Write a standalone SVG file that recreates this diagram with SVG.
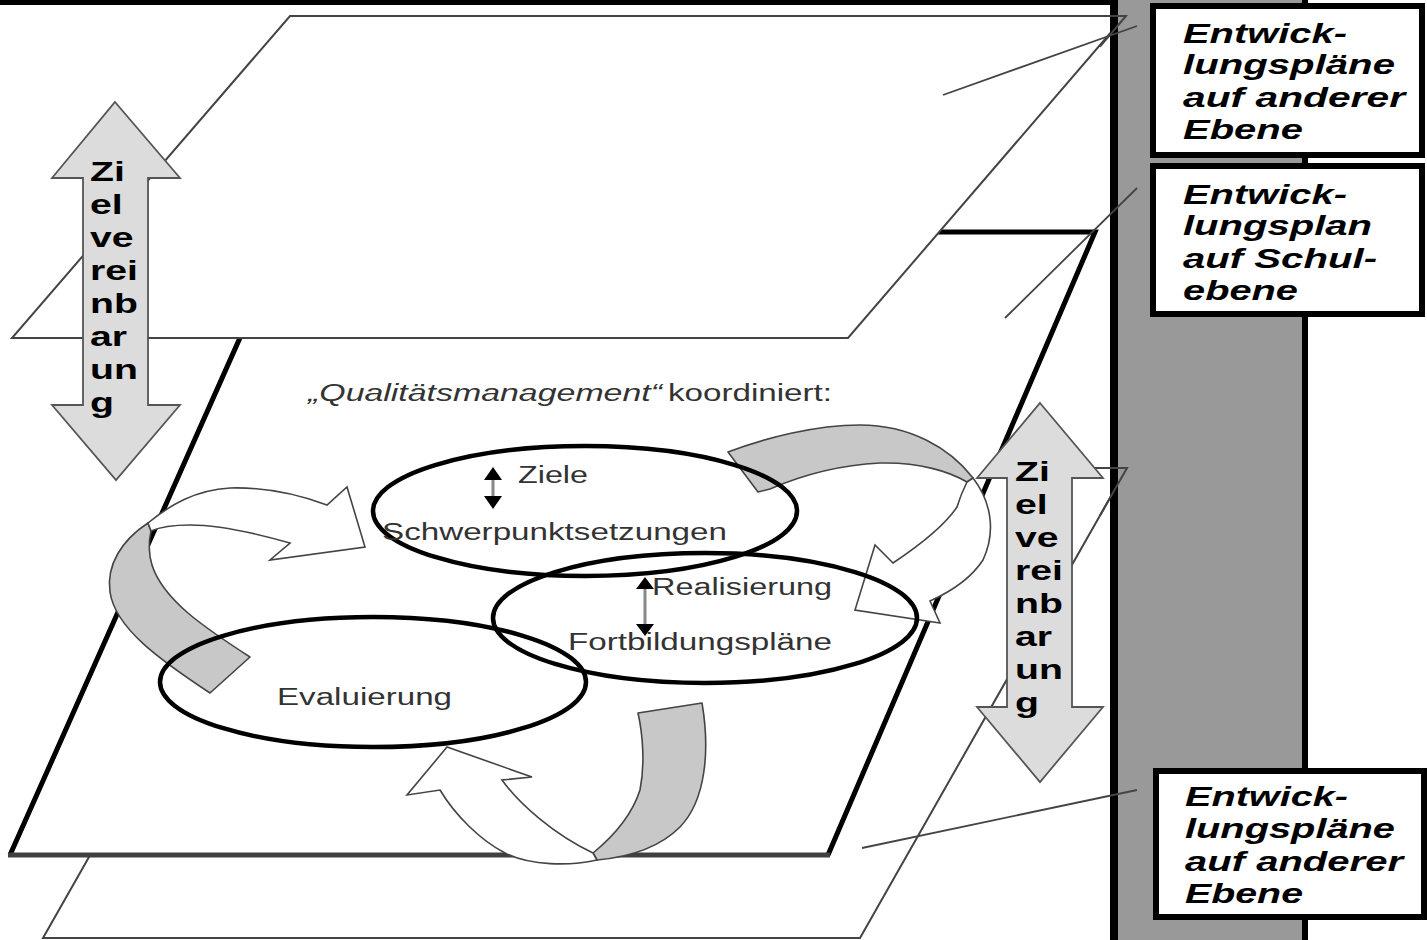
<svg xmlns="http://www.w3.org/2000/svg" width="1427" height="940" viewBox="0 0 1427 940">
  <style>
    .plane-thin { fill: #fff; stroke: #444; stroke-width: 2; stroke-linejoin: miter; }
    .plane-main { fill: #fff; stroke: #000; stroke-width: 5; stroke-linejoin: miter; }
    .edge-thin { fill: none; stroke: #444; stroke-width: 2; }
    .pointer { fill: none; stroke: #444; stroke-width: 1.8; }
    .band { fill: #c8c8c8; stroke: #444; stroke-width: 1.6; stroke-linejoin: round; }
    .body { fill: #fff; stroke: #444; stroke-width: 1.6; stroke-linejoin: miter; }
    .cycle { fill: none; stroke: #000; stroke-width: 4.5; }
    .dbl { fill: #dcdcdc; stroke: #555; stroke-width: 1.8; stroke-linejoin: miter; }
    .box { fill: #fff; stroke: #000; stroke-width: 6; }
    .lbl { font-family: "Liberation Sans", Arial, sans-serif; font-size: 23px; fill: #333; }
    .boxlbl { font-family: "Liberation Sans", Arial, sans-serif; font-size: 28px; font-weight: bold; font-style: italic; fill: #000; }
    .ziel { font-family: "Liberation Sans", Arial, sans-serif; font-size: 28px; font-weight: bold; fill: #000; }
    .tiny-shaft { stroke: #888; stroke-width: 3; }
  </style>

  <!-- frame bar at the top -->
  <rect x="0" y="0" width="1112" height="5" fill="#000"/>

  <!-- stacked planning levels -->
  <g id="plane-lower">
    <polygon class="plane-thin" points="310,468 1127,468 860,938 43,938"/>
  </g>
  <g id="plane-school">
    <polygon points="287,232 1095,232 828,855 10,855" fill="#fff" stroke="none"/>
    <polyline points="10,855 287,232 1095,232 828,855" fill="none" stroke="#000" stroke-width="5" stroke-linejoin="miter"/>
    <line x1="8" y1="855" x2="830" y2="855" stroke="#404040" stroke-width="5"/>
  </g>
  <g id="plane-upper">
    <polygon class="plane-thin" points="290,16 1125,16 848,338 12,338"/>
  </g>

  <!-- side column -->
  <g id="column">
    <rect x="1110" y="0" width="8" height="940" fill="#000"/>
    <rect x="1118" y="0" width="184" height="940" fill="#999"/>
    <rect x="1302" y="0" width="6" height="940" fill="#000"/>
    <!-- plane corners reaching over the column -->
    <polyline class="edge-thin" points="1100,16 1126,16 1100,46.6"/>
    <polyline class="edge-thin" points="1100,468 1127,468 1100,515.5"/>
  </g>

  <!-- pointer lines from the planes to the captions -->
  <g id="connectors">
    <line class="pointer" x1="943" y1="95" x2="1137" y2="26"/>
    <line class="pointer" x1="1005" y1="318" x2="1137" y2="188"/>
    <line class="pointer" x1="862" y1="848" x2="1137" y2="790"/>
  </g>

  <!-- captions -->
  <g id="caption-top">
    <rect class="box" x="1153" y="6" width="269" height="149"/>
    <text class="boxlbl" x="1183" y="43" textLength="164" lengthAdjust="spacingAndGlyphs">Entwick-</text>
    <text class="boxlbl" x="1183" y="74" textLength="212" lengthAdjust="spacingAndGlyphs">lungspläne</text>
    <text class="boxlbl" x="1183" y="107" textLength="222" lengthAdjust="spacingAndGlyphs">auf anderer</text>
    <text class="boxlbl" x="1183" y="139" textLength="120" lengthAdjust="spacingAndGlyphs">Ebene</text>
  </g>
  <g id="caption-school">
    <rect class="box" x="1153" y="166" width="269" height="148"/>
    <text class="boxlbl" x="1183" y="204" textLength="164" lengthAdjust="spacingAndGlyphs">Entwick-</text>
    <text class="boxlbl" x="1183" y="235" textLength="189" lengthAdjust="spacingAndGlyphs">lungsplan</text>
    <text class="boxlbl" x="1183" y="268" textLength="194" lengthAdjust="spacingAndGlyphs">auf Schul-</text>
    <text class="boxlbl" x="1183" y="300" textLength="115" lengthAdjust="spacingAndGlyphs">ebene</text>
  </g>
  <g id="caption-bottom">
    <rect class="box" x="1156" y="771" width="268" height="146"/>
    <text class="boxlbl" x="1185" y="806" textLength="163" lengthAdjust="spacingAndGlyphs">Entwick-</text>
    <text class="boxlbl" x="1185" y="838" textLength="210" lengthAdjust="spacingAndGlyphs">lungspläne</text>
    <text class="boxlbl" x="1185" y="871" textLength="218" lengthAdjust="spacingAndGlyphs">auf anderer</text>
    <text class="boxlbl" x="1185" y="903" textLength="118" lengthAdjust="spacingAndGlyphs">Ebene</text>
  </g>

  <!-- quality cycle: curved block arrows -->
  <g id="cycle-arrow-left">
    <path class="band" d="M148,523 C122,540 106,565 110,592 C115,628 160,660 210,693 L250,657 C205,628 163,600 152,565 C148,552 149,540 151,531 Z"/>
    <path class="body" d="M148,523 C170,505 195,490 230,488 C265,487 300,495 327,505 L347,487 L365,547 L270,560 L290,543 C255,533 220,525 190,525 C172,525 160,527 151,531 Z"/>
  </g>
  <g id="cycle-arrow-right">
    <path class="band" d="M728,452 C765,438 815,425 860,425 C910,425 950,448 973,478 L967,482 C950,472 920,462 880,463 C840,465 800,476 770,489 L758,492 Z"/>
    <path class="body" d="M973,478 C990,500 997,530 983,560 C970,580 950,592 930,601 L940,623 L855,610 L875,545 L893,563 C920,545 945,525 957,507 C960,497 963,490 967,482 Z"/>
  </g>
  <g id="cycle-arrow-bottom">
    <path class="band" d="M638,713 L702,703 C710,750 706,800 680,827 C660,847 630,857 597,860 L593,853 C615,835 632,815 640,790 C645,765 643,735 638,713 Z"/>
    <path class="body" d="M597,860 C570,866 530,866 505,853 C480,840 455,815 440,790 L407,795 L447,747 L532,777 L502,780 C520,805 555,835 593,853 Z"/>
  </g>

  <!-- cycle stages -->
  <g id="stage-goals">
    <ellipse class="cycle" cx="585" cy="511" rx="212" ry="65"/>
    <line class="tiny-shaft" x1="493" y1="478" x2="493" y2="498"/>
    <polygon points="493,467 502,480 484,480" fill="#000"/>
    <polygon points="484,496 502,496 493,509" fill="#000"/>
    <text class="lbl" x="518" y="483" textLength="70" lengthAdjust="spacingAndGlyphs">Ziele</text>
    <text class="lbl" x="382" y="540" textLength="345" lengthAdjust="spacingAndGlyphs">Schwerpunktsetzungen</text>
  </g>
  <g id="stage-realisation">
    <ellipse class="cycle" cx="705" cy="618" rx="212" ry="65"/>
    <line class="tiny-shaft" x1="645" y1="586" x2="645" y2="627"/>
    <polygon points="645,577 654,589 636,589" fill="#000"/>
    <polygon points="636,624 654,624 645,636" fill="#000"/>
    <text class="lbl" x="652" y="595" textLength="180" lengthAdjust="spacingAndGlyphs">Realisierung</text>
    <text class="lbl" x="568" y="650" textLength="264" lengthAdjust="spacingAndGlyphs">Fortbildungspläne</text>
  </g>
  <g id="stage-evaluation">
    <ellipse class="cycle" cx="373" cy="682" rx="213" ry="65"/>
    <text class="lbl" x="277" y="705" textLength="175" lengthAdjust="spacingAndGlyphs">Evaluierung</text>
  </g>

  <g id="title">
    <text class="lbl" x="308" y="401" font-style="italic" textLength="354" lengthAdjust="spacingAndGlyphs">„Qualitätsmanagement“</text>
    <text class="lbl" x="668" y="401" textLength="164" lengthAdjust="spacingAndGlyphs">koordiniert:</text>
  </g>

  <!-- target agreement arrows between levels -->
  <g id="agreement-left">
    <polygon class="dbl" points="115,102 180,178 148,178 148,405 180,405 116,480 52,405 83,405 83,178 52,178"/>
    <g transform="translate(90 0) scale(1.4 1)">
      <text class="ziel" x="0" y="181">Zi</text>
      <text class="ziel" x="0" y="214">el</text>
      <text class="ziel" x="0" y="247">ve</text>
      <text class="ziel" x="0" y="280">rei</text>
      <text class="ziel" x="0" y="313">nb</text>
      <text class="ziel" x="0" y="346">ar</text>
      <text class="ziel" x="0" y="379">un</text>
      <text class="ziel" x="0" y="412">g</text>
    </g>
  </g>
  <g id="agreement-right">
    <polygon class="dbl" points="1040,403 1103,478 1072,478 1072,707 1103,707 1040,782 977,707 1007,707 1007,478 977,478"/>
    <g transform="translate(1015 0) scale(1.4 1)">
      <text class="ziel" x="0" y="481">Zi</text>
      <text class="ziel" x="0" y="514">el</text>
      <text class="ziel" x="0" y="547">ve</text>
      <text class="ziel" x="0" y="580">rei</text>
      <text class="ziel" x="0" y="613">nb</text>
      <text class="ziel" x="0" y="646">ar</text>
      <text class="ziel" x="0" y="679">un</text>
      <text class="ziel" x="0" y="712">g</text>
    </g>
  </g>
</svg>
